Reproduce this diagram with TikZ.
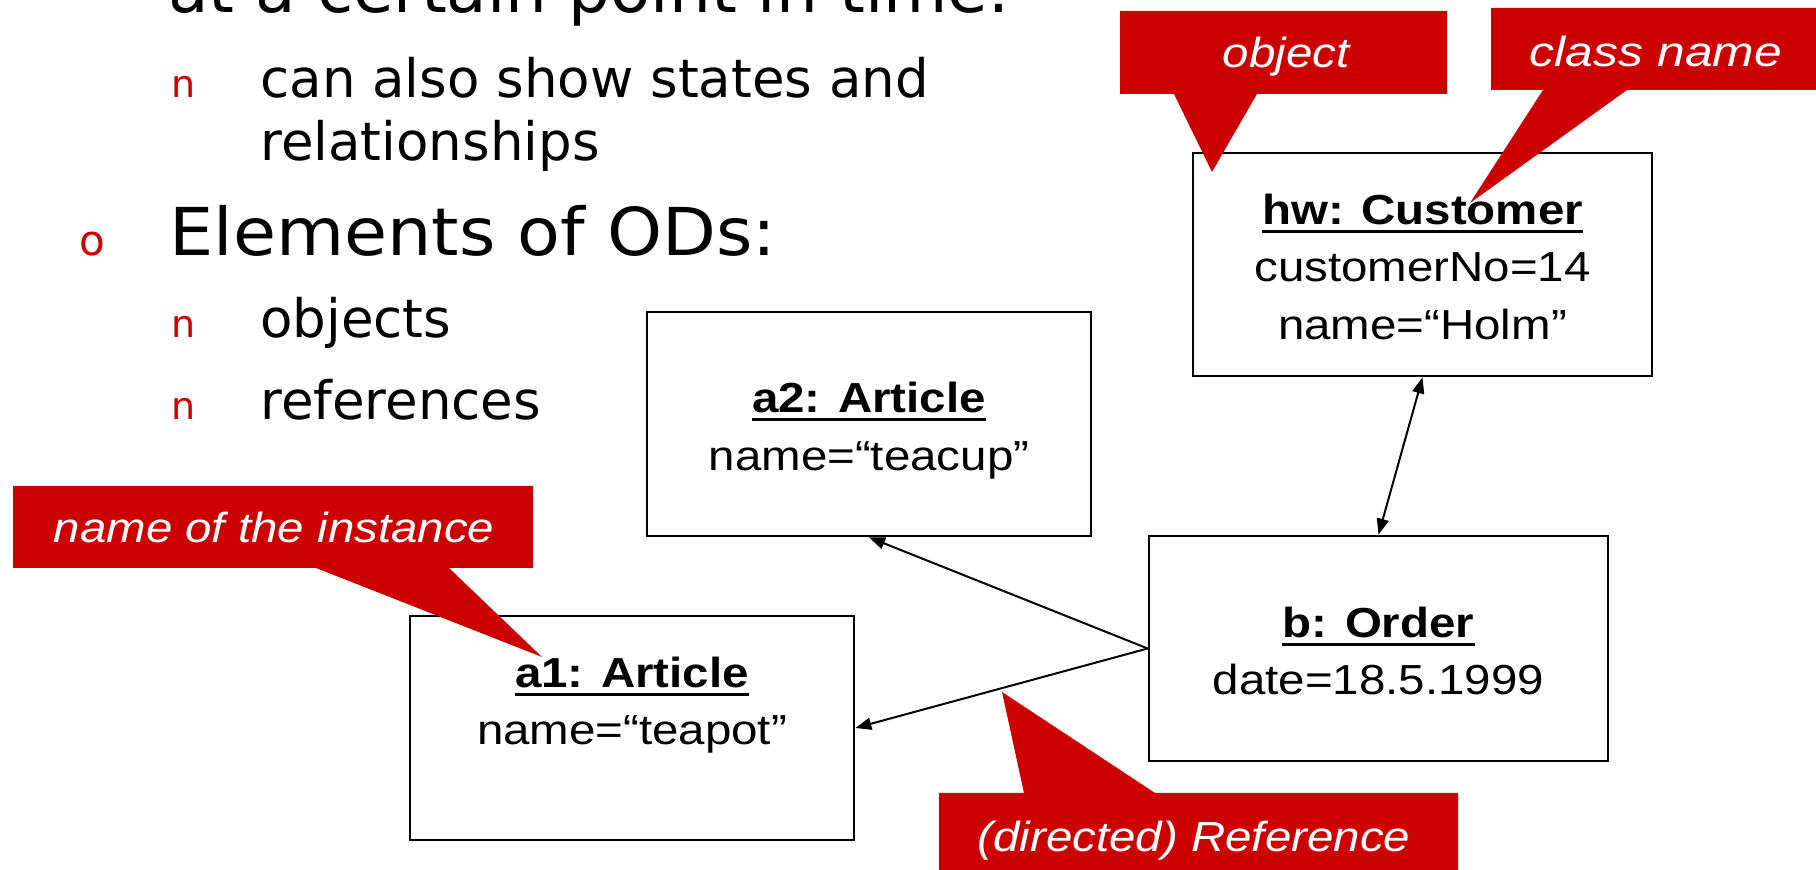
\documentclass[tikz,border=0pt]{standalone}
\usepackage{fontspec}
\usetikzlibrary{arrows.meta}
\newfontfamily\umlfont{Liberation Sans}[FakeStretch=1.13]
\newfontfamily\slidefont{DejaVu Sans}
\definecolor{calloutred}{RGB}{204,0,0}
\begin{document}
\begin{tikzpicture}[x=0.5pt,y=-0.5pt,
  >={Triangle[length=8pt,width=6pt]},
  objbox/.style={draw=black, line width=1.35pt, inner sep=0pt},
  boxtitle/.style={anchor=base, inner sep=0pt, font=\umlfont\bfseries\fontsize{21pt}{25pt}\selectfont},
  boxattr/.style={anchor=base, inner sep=0pt, font=\umlfont\fontsize{21pt}{25pt}\selectfont},
  uline/.style={line width=1.5pt},
  conn/.style={draw=black, line width=1pt},
  callout/.style={fill=calloutred},
  callouttext/.style={anchor=base, inner sep=0pt, text=white, font=\umlfont\itshape\fontsize{21pt}{25pt}\selectfont},
  levelone/.style={anchor=base west, inner sep=0pt, font=\slidefont\fontsize{33pt}{40pt}\selectfont},
  leveltwo/.style={anchor=base west, inner sep=0pt, font=\slidefont\fontsize{26.5pt}{32pt}\selectfont},
  bulletone/.style={anchor=base west, inner sep=0pt, text=calloutred, font=\slidefont\fontsize{21pt}{25pt}\selectfont},
  bullettwo/.style={anchor=base west, inner sep=0pt, text=calloutred, font=\slidefont\fontsize{19pt}{23pt}\selectfont}
]
\useasboundingbox (0,0) rectangle (1816,870);
\clip (0,0) rectangle (1816,870);

% slide text with bullets
\node[levelone] (l0) at (168,13) {at a certain point in time.};
\node[bullettwo] (b1) at (171,98) {n};
\node[leveltwo] (t1) at (260,98) {can also show states and};
\node[leveltwo] (t1b) at (260,161) {relationships};
\node[bulletone] (b2) at (79,256) {o};
\node[levelone] (t2) at (169,256) {\scalebox{1.06}[1]{Elements of ODs:}};
\node[bullettwo] (b3) at (171,338) {n};
\node[leveltwo] (t3) at (260,338) {objects};
\node[bullettwo] (b4) at (171,420) {n};
\node[leveltwo] (t4) at (260,420) {references};

% object boxes
\node[objbox, minimum width=229.5pt, minimum height=111.5pt] (hw) at (1422.5,264.5) {};
\node[objbox, minimum width=222pt, minimum height=112pt] (a2) at (869,424) {};
\node[objbox, minimum width=222pt, minimum height=112pt] (a1) at (632,728) {};
\node[objbox, minimum width=229.5pt, minimum height=112.5pt] (b) at (1378.5,648.5) {};

% object contents
\node[boxtitle] (hwtitle) at (1422.5,225) {hw: Customer};
\node[boxattr] (hwno) at (1422.5,282) {customerNo=14};
\node[boxattr] (hwname) at (1422.5,340) {name=“Holm”};
\node[boxtitle] (a2title) at (869,413) {a2: Article};
\node[boxattr] (a2name) at (869,471) {name=“teacup”};
\node[boxtitle] (a1title) at (632,688) {a1: Article};
\node[boxattr] (a1name) at (632,745) {name=“teapot”};
\node[boxtitle] (btitle) at (1378.5,638) {b: Order};
\node[boxattr] (bdate) at (1378.5,695) {date=18.5.1999};

% underlined object names
\foreach \t in {hwtitle,a2title,a1title,btitle}
  \draw[uline] ([yshift=-3.5pt]\t.base west) -- ([yshift=-3.5pt]\t.base east);

% references between objects
\draw[conn, <->] (hw.south) -- (b.north);
\draw[conn, ->] (b.west) -- (a2.south);
\draw[conn, ->] (b.west) -- (a1.east);

% callouts
\fill[callout] (1120,11) -- (1447,11) -- (1447,94) -- (1257,94) -- (1212,172)
  -- (1174,94) -- (1120,94) -- cycle;
\node[callouttext] (cobject) at (1286,68) {object};

\fill[callout] (1491,8) -- (1830,8) -- (1830,90) -- (1627,90) -- (1470,203)
  -- (1543,90) -- (1491,90) -- cycle;
\node[callouttext] (cclass) at (1656,67) {\scalebox{1.05}[1]{class name}};

\fill[callout] (13,486) -- (533,486) -- (533,568) -- (449,568) -- (542,657)
  -- (316,568) -- (13,568) -- cycle;
\node[callouttext] (cinst) at (274,543) {name of the instance};

\fill[callout] (939,880) -- (939,793) -- (1024,793) -- (1002,692) -- (1155,793)
  -- (1458,793) -- (1458,880) -- cycle;
\node[callouttext] (cref) at (1194,852) {(directed) Reference};
\end{tikzpicture}
\end{document}
